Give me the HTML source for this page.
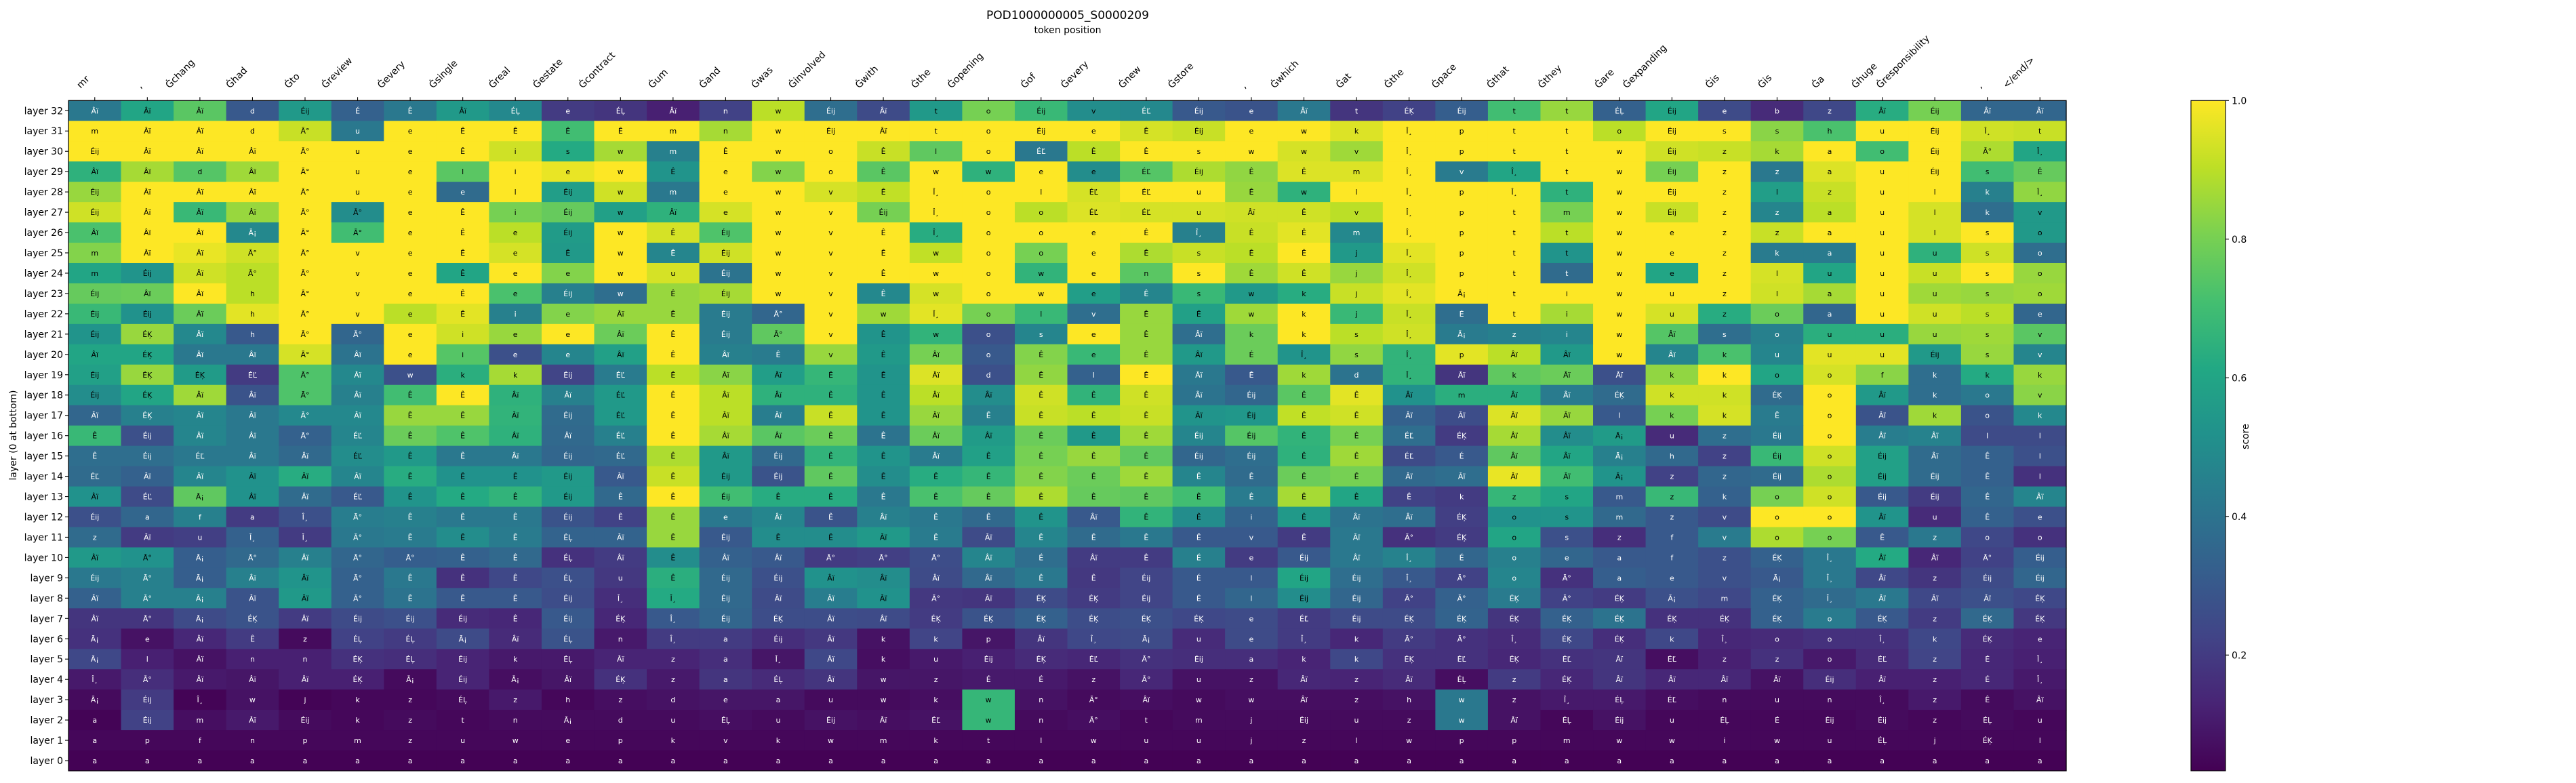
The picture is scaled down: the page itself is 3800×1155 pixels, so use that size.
<!DOCTYPE html>
<html>
<head>
<meta charset="utf-8">
<style>
html,body{margin:0;padding:0;background:#fff;}
svg{display:block;font-family:"DejaVu Sans","Liberation Sans",sans-serif;}
</style>
</head>
<body>
<svg id="chart" width="3800" height="1155" viewBox="0 0 3800 1155" xmlns="http://www.w3.org/2000/svg">
  <defs>
    <linearGradient id="viridisGrad" x1="0" y1="1" x2="0" y2="0"></linearGradient>
  </defs>
  <rect x="0" y="0" width="3800" height="1155" fill="#ffffff"/>
  <text x="1575" y="28" text-anchor="middle" font-size="17" fill="#000">POD1000000005_S0000209</text>
  <text x="1575" y="49" text-anchor="middle" font-size="14" fill="#000">token position</text>
  <text transform="translate(24,642) rotate(-90)" text-anchor="middle" font-size="14" fill="#000">layer (0 at bottom)</text>
  <g id="cells"></g>
  <g id="xticks"></g>
  <g id="yticks"></g>
  <rect id="frame" fill="none" stroke="#000" stroke-width="1.2"/>
  <g id="colorbar"></g>
  <text transform="translate(3317,644) rotate(-90)" text-anchor="middle" font-size="14" fill="#000">score</text>
</svg>
<script>
// ---- data ----
const tokens = ["mr", ",", "Ġchang", "Ġhad", "Ġto", "Ġreview", "Ġevery", "Ġsingle", "Ġreal", "Ġestate", "Ġcontract", "Ġum", "Ġand", "Ġwas", "Ġinvolved", "Ġwith", "Ġthe", "Ġopening", "Ġof", "Ġevery", "Ġnew", "Ġstore", ",", "Ġwhich", "Ġat", "Ġthe", "Ġpace", "Ġthat", "Ġthey", "Ġare", "Ġexpanding", "Ġis", "Ġis", "Ġa", "Ġhuge", "Ġresponsibility", ",", "</end/>"];
const layers = [32,31,30,29,28,27,26,25,24,23,22,21,20,19,18,17,16,15,14,13,12,11,10,9,8,7,6,5,4,3,2,1,0];
const colorbarTicks = [0.2, 0.4, 0.6, 0.8, 1.0];
const vmin = 0.033;
const vmax = 1.0;

const L32 = [.42,.6,.75,.3,.55,.33,.42,.55,.48,.2,.18,.12,.22,.9,.38,.25,.55,.8,.68,.5,.48,.3,.28,.42,.18,.22,.32,.7,.85,.33,.6,.25,.15,.24,.63,.8,.35,.35];
const L31 = [1,1,1,1,.92,.42,1,1,1,.7,1,1,.87,1,1,1,1,1,1,1,.94,.92,1,1,.95,1,1,1,1,.9,1,1,.83,.72,1,1,.93,.92];
const L30 = [1,1,1,1,1,1,1,1,.93,.62,.87,.45,1,1,1,.92,.76,1,.42,.9,1,1,1,.94,.86,1,1,1,1,1,.93,.92,.87,1,.7,1,.88,.6];
const L29 = [.65,.87,.74,.86,1,1,1,.75,1,.97,1,.53,1,.82,1,.75,1,.65,1,.5,.74,.88,.84,.95,.95,1,.43,.6,1,1,.8,1,.42,.95,1,1,.7,.77];
const L28 = [.85,1,1,1,1,1,1,.37,1,.57,.93,.42,1,1,.94,.91,1,1,1,.94,1,1,.85,.65,1,1,1,1,.65,1,1,1,.57,.92,1,1,.45,.84];
const L27 = [.93,1,.68,.85,1,.5,1,1,.8,.77,.58,.65,.94,1,1,.8,1,1,.9,.95,.94,.94,.93,.93,.9,1,1,1,.8,1,.92,1,.47,.9,1,.94,.38,.55];
const L26 = [.72,1,1,.48,1,.7,1,1,.9,.56,1,.94,.73,1,1,1,.63,1,1,1,1,.45,.92,.96,.48,1,1,1,.9,1,1,1,.92,1,1,.94,1,.55];
const L25 = [.82,1,.97,.93,1,1,1,1,.94,.55,1,.47,.93,1,1,1,.91,1,.8,1,.88,.92,.9,1,.55,.96,1,1,.53,1,1,1,.43,.43,1,.65,.93,.38];
const L24 = [.6,.53,.93,.9,1,1,1,.6,1,.82,1,.94,.4,1,1,1,1,1,.66,1,.75,1,.86,.93,.85,.93,1,1,.37,1,.6,1,.94,.6,1,.92,1,.85];
const L23 = [.77,.78,1,.9,1,1,1,1,.72,.45,.38,.85,.87,1,1,.48,.94,1,1,.57,.47,.68,.55,.63,.92,.96,1,1,1,1,1,1,.93,.87,1,.86,.85,.86];
const L22 = [.68,.52,.78,.96,1,1,.9,.96,.45,.82,.85,.85,.43,.35,1,.86,.96,.8,.68,.38,.85,.58,.86,1,.68,.92,.38,1,.87,1,.94,.63,.78,.35,1,.93,.9,.35];
const L21 = [.53,.85,.48,.3,1,.35,1,.93,.85,1,.78,1,.43,.76,1,.53,.66,.27,.47,1,.85,.38,.78,1,.9,.93,.43,.45,.47,1,.74,.38,.45,.64,.64,.85,.86,.75];
const L20 = [.6,.6,.42,.42,.94,.4,1,.74,.27,.47,.58,1,.45,.43,.85,.55,.8,.3,.82,.68,.85,.55,.78,.53,.84,.66,.96,.9,.55,1,.47,.72,.47,.96,.96,.55,.85,.47];
const L19 = [.58,.85,.56,.2,.73,.48,.27,.64,.87,.23,.43,.9,.83,.57,.67,.53,.95,.27,.84,.33,1,.42,.3,.86,.4,.66,.18,.76,.78,.27,.84,1,.6,.94,.83,.38,.62,.85];
const L18 = [.5,.6,.86,.28,.73,.45,.7,1,.65,.45,.55,1,.9,.65,.65,.53,.9,.5,.93,.66,.93,.4,.35,.75,.96,.52,.64,.64,.43,.37,.93,.93,.37,1,.55,.38,.42,.83];
const L17 = [.35,.45,.47,.42,.48,.48,.85,.85,.66,.37,.55,1,.9,.44,.92,.53,.85,.45,.92,.9,.92,.53,.54,.91,.93,.33,.26,.95,.85,.3,.8,.94,.43,1,.28,.86,.28,.48];
const L16 = [.68,.27,.47,.42,.33,.47,.78,.73,.65,.36,.45,1,.87,.75,.78,.4,.78,.56,.78,.55,.86,.47,.74,.66,.8,.38,.2,.87,.5,.56,.15,.38,.42,1,.44,.46,.25,.25];
const L15 = [.38,.38,.42,.42,.36,.5,.55,.42,.42,.35,.36,.88,.55,.36,.66,.53,.43,.58,.8,.85,.76,.35,.38,.65,.86,.25,.3,.76,.6,.45,.36,.22,.68,.93,.58,.37,.33,.27];
const L14 = [.37,.33,.47,.52,.63,.47,.63,.52,.52,.55,.3,.92,.55,.28,.76,.5,.63,.67,.82,.78,.86,.47,.37,.78,.8,.36,.38,.97,.7,.53,.22,.35,.37,.88,.58,.37,.33,.17];
const L13 = [.52,.25,.76,.52,.37,.3,.53,.62,.66,.55,.36,1,.7,.63,.63,.42,.72,.77,.88,.77,.76,.7,.43,.87,.6,.22,.2,.67,.6,.3,.68,.33,.8,.93,.3,.2,.35,.47];
const L12 = [.27,.35,.45,.2,.27,.44,.45,.42,.42,.28,.22,.85,.42,.47,.28,.45,.42,.36,.53,.3,.66,.5,.34,.55,.4,.38,.21,.52,.53,.36,.3,.25,1,1,.53,.15,.33,.27];
const L11 = [.37,.2,.21,.33,.2,.42,.43,.5,.43,.34,.34,.85,.3,.5,.5,.55,.43,.25,.47,.37,.42,.3,.3,.2,.42,.17,.2,.6,.27,.16,.3,.43,.88,.8,.3,.42,.24,.17];
const L10 = [.55,.52,.32,.36,.45,.35,.32,.33,.36,.17,.2,.5,.33,.3,.2,.21,.26,.47,.38,.2,.2,.45,.2,.3,.42,.46,.35,.45,.35,.3,.3,.27,.33,.42,.62,.14,.22,.32];
const L9 = [.42,.45,.32,.45,.53,.33,.42,.17,.24,.27,.19,.64,.36,.27,.52,.5,.25,.36,.42,.19,.23,.3,.3,.6,.38,.3,.22,.47,.17,.32,.3,.27,.3,.42,.24,.18,.25,.35];
const L8 = [.33,.45,.45,.28,.55,.33,.4,.3,.3,.26,.16,.62,.36,.25,.44,.52,.19,.18,.25,.2,.23,.3,.35,.5,.35,.22,.33,.43,.22,.2,.27,.24,.33,.37,.42,.24,.27,.24];
const L7 = [.18,.18,.25,.28,.2,.25,.27,.15,.14,.3,.14,.3,.35,.26,.26,.25,.2,.28,.33,.26,.27,.24,.25,.2,.25,.25,.34,.18,.33,.4,.17,.17,.33,.43,.3,.2,.36,.19];
const L6 = [.17,.08,.14,.2,.06,.22,.2,.25,.15,.28,.1,.2,.2,.16,.19,.08,.23,.09,.18,.24,.25,.15,.25,.2,.14,.2,.17,.15,.24,.16,.24,.14,.15,.17,.17,.24,.15,.13];
const L5 = [.24,.12,.08,.12,.12,.17,.16,.13,.1,.1,.13,.13,.16,.09,.24,.07,.1,.12,.15,.14,.17,.16,.16,.13,.24,.17,.17,.14,.17,.18,.07,.12,.17,.1,.15,.23,.14,.12];
const L4 = [.1,.16,.1,.09,.12,.12,.06,.13,.07,.09,.17,.1,.18,.15,.18,.09,.09,.1,.1,.08,.14,.08,.08,.14,.13,.15,.07,.2,.14,.18,.14,.14,.08,.16,.12,.12,.14,.1];
const L3 = [.06,.2,.04,.08,.04,.05,.05,.06,.1,.05,.07,.08,.09,.09,.06,.06,.07,.67,.08,.06,.07,.06,.07,.07,.07,.08,.42,.08,.1,.1,.07,.06,.06,.06,.06,.1,.06,.08];
const L2 = [.04,.22,.07,.1,.06,.05,.06,.05,.06,.06,.06,.06,.07,.06,.08,.07,.08,.67,.06,.07,.05,.06,.06,.06,.06,.06,.42,.08,.05,.08,.05,.05,.05,.05,.06,.05,.06,.05];
const L1 = [.05,.05,.05,.05,.05,.05,.05,.05,.05,.05,.05,.05,.05,.05,.05,.05,.05,.05,.05,.05,.05,.05,.05,.05,.05,.05,.05,.05,.05,.05,.05,.05,.05,.05,.05,.05,.05,.05];
const L0 = [.035,.035,.035,.035,.035,.035,.035,.035,.035,.035,.035,.035,.035,.035,.035,.035,.035,.035,.035,.035,.035,.035,.035,.035,.035,.035,.035,.035,.035,.035,.035,.035,.035,.035,.035,.035,.035,.035];
const scores = [L32,L31,L30,L29,L28,L27,L26,L25,L24,L23,L22,L21,L20,L19,L18,L17,L16,L15,L14,L13,L12,L11,L10,L9,L8,L7,L6,L5,L4,L3,L2,L1,L0];

const cellText = [
"Âï Âï Âï d Éij É Ê Âï ÉĻ e ÉĻ Âï n w Éij Âï t o Éij v ÉĽ Éij e Âï t ÉĶ Éij t t ÉĻ Éij e b z Âï Éij Âï Âï",
"m Âï Âï d Ā° u e Ê Ê Ê Ê m n w Éij Âï t o Éij e Ê Éij e w k Î¸ p t t o Éij s s h u Éij Î¸ t",
"Éij Âï Âï Âï Ā° u e Ê i s w m Ê w o Ê l o ÉĽ Ê Ê s w w v Î¸ p t t w Éij z k a o Éij Ā° Î¸",
"Âï Âï d Âï Ā° u e l i e w Ê e w o Ê w w e e ÉĽ Éij Ê Ê m Î¸ v Î¸ t w Éij z z a u Éij s Ê",
"Éij Âï Âï Âï Ā° u e e l Éij w m e w v Ê Î¸ o l ÉĽ ÉĽ u Ê w l Î¸ p Î¸ t w Éij z l z u l k Î¸",
"Éij Âï Âï Âï Ā° Ā° e Ê i Éij w Âï e w v Éij Î¸ o o ÉĽ ÉĽ u Âï Ê v Î¸ p t m w Éij z z a u l k v",
"Âï Âï Âï Ā¡ Ā° Ā° e Ê e Éij w Ê Éij w v Ê Î¸ o o e Ê Î¸ Ê Ê m Î¸ p t t w e z z a u l s o",
"m Âï Âï Ā° Ā° v e Ê e Ê w Ê Éij w v Ê w o o e Ê s Ê Ê j Î¸ p t t w e z k a u u s o",
"m Éij Âï Ā° Ā° v e Ê e e w u Éij w v Ê w o w e n s Ê Ê j Î¸ p t t w e z l u u u s o",
"Éij Âï Âï h Ā° v e Ê e Éij w Ê Éij w v Ê w o w e Ê s w k j Î¸ Ā¡ t i w u z l a u u s o",
"Éij Éij Âï h Ā° v e Ê i e Âï Ê Éij Ā° v w Î¸ o l v Ê Ê w k j Î¸ É t i w u z o a u u s e",
"Éij ÉĶ Âï h Ā° Ā° e i e e Âï Ê Éij Ā° v Ê w o s e Ê Âï k k s Î¸ Ā¡ z i w Âï s o u u u s v",
"Âï ÉĶ Âï Âï Ā° Âï e i e e Âï Ê Âï Ê v Ê Âï o Ê e Ê Âï É Î¸ s Î¸ p Âï Âï w Âï k u u u Éij s v",
"Éij ÉĶ ÉĶ ÉĽ Ā° Âï w k k Éij ÉĽ Ê Âï Âï Ê Ê Âï d Ê l Ê Âï Ê k d Î¸ Âï k Âï Âï k k o o f k k k",
"Éij ÉĶ Âï Âï Ā° Âï Ê Ê Âï Âï ÉĽ Ê Âï Âï Ê Ê Âï Âï Ê Ê Ê Âï Éij Ê Ê Âï m Âï Âï ÉĶ k k ÉĶ o Âï k o v",
"Âï ÉĶ Âï Âï Ā° Âï Ê Ê Âï Éij ÉĽ Ê Âï Âï Ê Ê Âï Ê Ê Ê Ê Âï Éij Ê Ê Âï Âï Âï Âï l k k Ê o Âï k o k",
"Ê Éij Âï Âï Ā° ÉĽ Ê Ê Âï Âï ÉĽ Ê Âï Âï Ê Ê Âï Âï Ê Ê Ê Éij Éij Ê Ê ÉĽ ÉĶ Âï Âï Ā¡ u z Éij o Âï Âï l l",
"Ê Éij ÉĽ Âï Âï ÉĽ Ê Ê Âï Éij ÉĽ Ê Âï Éij Ê Ê Âï Ê Ê Ê Ê Éij Éij Ê Ê ÉĽ É Âï Âï Ā¡ h z Éij o Éij Âï Ê l",
"ÉĽ Âï Âï Âï Âï Âï Ê Ê Ê Éij Âï Ê Éij Éij Ê Ê Ê Ê Ê Ê Ê Ê Ê Ê Ê Âï Âï Âï Âï Ā¡ z z Éij o Éij Éij Ê l",
"Âï ÉĽ Ā¡ Âï Âï ÉĽ Ê Ê Ê Éij Ê Ê Éij Ê Ê Ê Ê Ê Ê Ê Ê Ê Ê Ê Ê Ê k z s m z k o o Éij Éij Ê Âï",
"Éij a f a Î¸ Ā° Ê Ê Ê Éij Ê Ê e Âï Ê Âï Ê Ê Ê Âï Ê Ê i Ê Âï Âï ÉĶ o s m z v o o Âï u Ê e",
"z Âï u Î¸ Î¸ Ā° Ê Ê Ê ÉĻ Âï Ê Éij Ê Ê Âï Ê Âï Ê Ê Ê Ê v Ê Âï Ā° ÉĶ o s z f v o o Ê z o o",
"Âï Ā° Ā¡ Ā° Âï Ā° Ā° Ê Ê ÉĻ Âï Ê Âï Âï Ā° Ā° Ā° Âï É Âï Ê É e Éij Âï Î¸ É o e a f z ÉĶ Î¸ Âï Âï Ā° Éij",
"Éij Ā° Ā¡ Âï Âï Ā° Ê Ê Ê ÉĻ u Ê Éij Éij Âï Âï Âï Âï Ê Ê Éij É l Éij Éij Î¸ Ā° o Ā° a e v Ā¡ Î¸ Âï z Éij Éij",
"Âï Ā° Ā¡ Âï Âï Ā° Ê Ê Ê Éij Î¸ Î¸ Éij Âï Âï Âï Ā° Âï ÉĶ ÉĶ Éij É l Éij Éij Ā° Ā° ÉĶ Ā° ÉĶ Ā¡ m ÉĶ Î¸ Âï Âï Âï ÉĶ",
"Âï Ā° Ā¡ ÉĶ Âï Éij Éij Éij Ê Éij ÉĶ Î¸ Éij ÉĶ Âï Âï ÉĶ ÉĶ ÉĶ ÉĶ ÉĶ ÉĶ e ÉĽ Éij ÉĶ ÉĶ ÉĶ ÉĶ ÉĶ ÉĶ ÉĶ ÉĶ o ÉĶ z ÉĶ ÉĶ",
"Ā¡ e Âï Ê z ÉĻ ÉĻ Ā¡ Âï ÉĻ n Î¸ a Éij Âï k k p Âï Î¸ Ā¡ u e Î¸ k Ā° Ā° Î¸ ÉĶ ÉĶ k Î¸ o o Î¸ k ÉĶ e",
"Ā¡ l Âï n n ÉĶ ÉĻ Éij k ÉĻ Âï z a Î¸ Âï k u Éij ÉĶ ÉĽ Ā° Éij a k k ÉĶ ÉĽ ÉĶ ÉĽ Âï ÉĽ z z o ÉĽ z É Î¸",
"Î¸ Ā° Âï Âï Âï ÉĶ Ā¡ Éij Ā¡ Âï ÉĶ z a ÉĻ Âï w z É É z Ā° u z Âï z Âï ÉĻ z ÉĶ Âï Âï Âï Âï Éij Âï z É Î¸",
"Ā¡ Éij Î¸ w j k z ÉĻ z h z d e a u w k w n Ā° Âï w w Âï z h w z Î¸ ÉĻ ÉĽ n u n Î¸ z Ê Âï",
"a Éij m Âï Éij k z t n Ā¡ d u ÉĻ u Éij Âï ÉĽ w n Ā° t m j Éij u z w Âï ÉĻ Éij u ÉĻ É Éij Éij z ÉĻ u",
"a p f n p m z u w e p k v k w m k t l w u u j z l w p p m w w i w u ÉĻ j ÉĶ l",
"a a a a a a a a a a a a a a a a a a a a a a a a a a a a a a a a a a a a a a"
];

// ---- layout ----
const SVGNS = "http://www.w3.org/2000/svg";
const plotLeft = 101, plotTop = 148.3, plotRight = 3048, plotBottom = 1137;
const nCols = tokens.length, nRows = layers.length;
const colW = (plotRight - plotLeft) / nCols;
const rowH = (plotBottom - plotTop) / nRows;
const xScale = i => plotLeft + i * colW;
const yScale = r => plotTop + r * rowH;
const cbLeft = 3232, cbRight = 3283, cbTop = plotTop, cbBottom = plotBottom;
const cbScale = v => cbBottom - (v - vmin) / (vmax - vmin) * (cbBottom - cbTop);

const viridisStops = [
 [0.0,[68,1,84]],[0.1,[72,36,117]],[0.2,[65,68,135]],[0.3,[53,95,141]],[0.4,[42,120,142]],
 [0.5,[33,145,140]],[0.6,[34,168,132]],[0.7,[68,191,112]],[0.8,[122,209,81]],[0.9,[189,223,38]],[1.0,[253,231,37]]];
function viridis(t){
  t = Math.max(0, Math.min(1, t));
  for (let k = 1; k < viridisStops.length; k++) {
    if (t <= viridisStops[k][0]) {
      const a = viridisStops[k-1], b = viridisStops[k];
      const f = (t - a[0]) / (b[0] - a[0]);
      const c = a[1].map((v, j) => Math.round(v + (b[1][j] - v) * f));
      return "rgb(" + c.join(",") + ")";
    }
  }
  return "rgb(253,231,37)";
}
const colorOf = v => viridis((v - vmin) / (vmax - vmin));

// ---- cells ----
const gCells = document.getElementById("cells");
scores.forEach((row, r) => {
  const texts = cellText[r].split(" ");
  row.forEach((v, c) => {
    const rect = document.createElementNS(SVGNS, "rect");
    rect.setAttribute("x", xScale(c));
    rect.setAttribute("y", yScale(r));
    rect.setAttribute("width", colW + 0.6);
    rect.setAttribute("height", rowH + 0.6);
    rect.setAttribute("fill", colorOf(v));
    
    
    gCells.appendChild(rect);
    const t = document.createElementNS(SVGNS, "text");
    t.setAttribute("x", xScale(c) + colW / 2);
    t.setAttribute("y", yScale(r) + rowH / 2 + 4);
    t.setAttribute("text-anchor", "middle");
    t.setAttribute("font-size", "11");
    t.setAttribute("fill", v < 0.5 ? "#ffffff" : "#000000");
    t.textContent = texts[c] || "";
    
    
    gCells.appendChild(t);
  });
});

// frame
const frame = document.getElementById("frame");
frame.setAttribute("x", plotLeft); frame.setAttribute("y", plotTop);
frame.setAttribute("width", plotRight - plotLeft); frame.setAttribute("height", plotBottom - plotTop);

// ---- x ticks (top) ----
const gx = document.getElementById("xticks");
tokens.forEach((tok, i) => {
  const cx = xScale(i) + colW / 2;
  const tick = document.createElementNS(SVGNS, "line");
  tick.setAttribute("x1", cx); tick.setAttribute("x2", cx);
  tick.setAttribute("y1", plotTop - 5); tick.setAttribute("y2", plotTop);
  tick.setAttribute("stroke", "#000"); tick.setAttribute("stroke-width", "1.1");
  
  
  gx.appendChild(tick);
  const t = document.createElementNS(SVGNS, "text");
  t.setAttribute("font-size", "14");
  t.setAttribute("fill", "#000");
  t.setAttribute("text-anchor", "end");
  t.textContent = tok;
  
  
  gx.appendChild(t);
  const L = t.getComputedTextLength ? t.getComputedTextLength() : tok.length * 8;
  const px = cx - 7, py = 131 - 0.7071 * L;
  t.setAttribute("transform", "translate(" + px + "," + py + ") rotate(-45)");
});

// ---- y ticks ----
const gy = document.getElementById("yticks");
layers.forEach((layer, r) => {
  const cy = yScale(r) + rowH / 2;
  const tick = document.createElementNS(SVGNS, "line");
  tick.setAttribute("x1", plotLeft - 5); tick.setAttribute("x2", plotLeft);
  tick.setAttribute("y1", cy); tick.setAttribute("y2", cy);
  tick.setAttribute("stroke", "#000"); tick.setAttribute("stroke-width", "1.1");
  
  
  gy.appendChild(tick);
  const t = document.createElementNS(SVGNS, "text");
  t.setAttribute("x", plotLeft - 8);
  t.setAttribute("y", cy + 5);
  t.setAttribute("text-anchor", "end");
  t.setAttribute("font-size", "14");
  t.setAttribute("fill", "#000");
  t.textContent = "layer " + layer;
  
  
  gy.appendChild(t);
});

// ---- colorbar ----
const grad = document.getElementById("viridisGrad");
viridisStops.forEach(s => {
  const st = document.createElementNS(SVGNS, "stop");
  st.setAttribute("offset", s[0]);
  st.setAttribute("stop-color", "rgb(" + s[1].join(",") + ")");
  grad.appendChild(st);
});
const gcb = document.getElementById("colorbar");
const cbRect = document.createElementNS(SVGNS, "rect");
cbRect.setAttribute("x", cbLeft); cbRect.setAttribute("y", cbTop);
cbRect.setAttribute("width", cbRight - cbLeft); cbRect.setAttribute("height", cbBottom - cbTop);
cbRect.setAttribute("fill", "url(#viridisGrad)");
cbRect.setAttribute("stroke", "#000"); cbRect.setAttribute("stroke-width", "1.1");


gcb.appendChild(cbRect);
colorbarTicks.forEach(v => {
  const y = cbScale(v);
  const tick = document.createElementNS(SVGNS, "line");
  tick.setAttribute("x1", cbRight); tick.setAttribute("x2", cbRight + 5);
  tick.setAttribute("y1", y); tick.setAttribute("y2", y);
  tick.setAttribute("stroke", "#000"); tick.setAttribute("stroke-width", "1.1");
  
  
  gcb.appendChild(tick);
  const t = document.createElementNS(SVGNS, "text");
  t.setAttribute("x", cbRight + 9);
  t.setAttribute("y", y + 5);
  t.setAttribute("font-size", "14");
  t.setAttribute("fill", "#000");
  t.textContent = v.toFixed(1);
  
  
  gcb.appendChild(t);
});
</script>
</body>
</html>
